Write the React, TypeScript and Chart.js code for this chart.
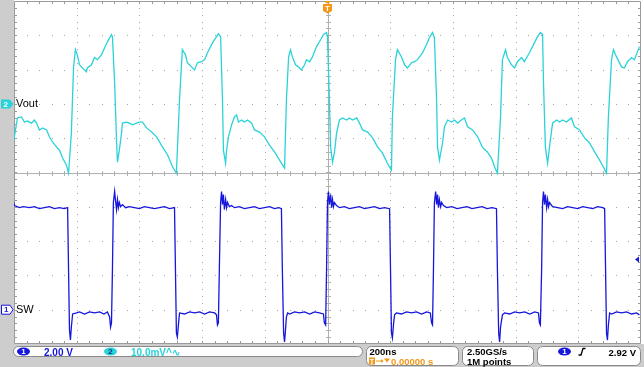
import React, { useEffect, useRef } from "react";
import { Chart, registerables } from "chart.js";

Chart.register(...registerables);

// ---- Channel 2 (Vout, AC, 10 mV/div) : time in ns, value in mV ----
const voutTimeNs = [
  -1002, -989, -976, -967, -957, -944, -935, -928, -919, -909, -896, -887, -877, -864, -855, -845, -833, -826,
  -817, -810, -804, -798, -791, -782, -769, -766, -753, -743, -734, -721, -711, -702, -689, -686,
  -679, -673, -670, -664, -657, -654, -641, -632, -622, -609, -600, -590, -577, -561, -545, -526, -510, -494, -482,
  -472, -463, -453, -447, -434, -424, -415, -402, -392, -383, -367, -354, -348, -341,
  -335, -332, -325, -322, -316, -306, -297, -290, -284, -274, -265, -255, -242, -233, -217, -201, -185, -169, -153, -137,
  -131, -124, -118, -112, -102, -93, -83, -73, -67, -57, -48, -35, -22, -13, -3, 0,
  6, 10, 16, 22, 29, 38, 48, 61, 70, 80, 93, 102, 112, 128, 144, 160, 175, 191, 204,
  207, 217, 223, 236, 246, 255, 268, 278, 287, 303, 316, 325, 335, 341,
  348, 351, 357, 367, 373, 383, 396, 405, 415, 427, 437, 447, 463, 479, 494, 510, 523, 533, 542,
  552, 558, 568, 574, 587, 597, 606, 619, 628, 644, 660, 670, 679, 686,
  689, 695, 702, 711, 718, 731, 740, 750, 762, 778, 788, 804, 820, 836, 852, 868, 880, 890,
  896, 906, 912, 922, 938, 947, 957, 970, 979, 995,
];
const voutMilliVolts = [
  -11.4, -4.1, -3.8, -5.3, -5.0, -5.6, -4.7, -5.6, -7.6, -7.0, -7.6, -9.6, -11.1, -12.6, -13.5, -15.8, -17.8, -20.2,
  -8.5, 10.8, 15.8, 14.3, 11.4, 10.5, 9.4, 10.5, 11.4, 13.5, 12.9, 14.3, 16.4, 18.1, 20.2, 19.6,
  6.1, -10.5, -17.0, -13.5, -8.5, -5.6, -5.3, -5.6, -6.1, -5.6, -5.3, -5.3, -7.0, -8.2, -9.6, -12.6, -14.9, -18.4, -20.2,
  1.2, 15.8, 14.3, 12.0, 10.8, 9.9, 12.0, 12.3, 12.9, 14.9, 17.8, 19.6, 20.5, 19.6,
  1.2, -13.5, -17.3, -13.5, -9.6, -6.1, -3.8, -3.2, -5.3, -4.7, -5.3, -4.7, -5.6, -7.6, -8.2, -9.6, -12.0, -14.0, -16.4, -18.7,
  1.2, 13.7, 15.8, 13.7, 11.4, 10.8, 9.9, 11.4, 12.9, 12.3, 13.7, 16.7, 18.7, 20.2, 20.8, 19.6,
  1.2, -12.6, -17.0, -14.3, -8.5, -4.7, -4.1, -4.7, -4.1, -4.7, -4.1, -5.6, -7.6, -8.2, -9.9, -12.6, -14.3, -17.3, -19.3,
  -3.8, 12.9, 15.8, 13.7, 11.4, 10.5, 12.0, 12.3, 12.9, 14.9, 17.3, 19.3, 20.8, 19.3,
  1.2, -12.6, -16.4, -11.4, -6.7, -4.7, -5.3, -4.7, -5.6, -4.7, -4.1, -6.7, -7.6, -9.6, -12.6, -14.0, -15.8, -18.4, -20.2,
  -3.8, 12.9, 15.8, 13.5, 11.4, 10.5, 12.3, 13.5, 12.3, 14.9, 17.8, 19.6, 20.8, 20.2,
  6.1, -12.6, -17.3, -10.5, -5.6, -4.7, -5.3, -4.7, -5.3, -4.1, -6.7, -7.6, -9.9, -11.4, -14.0, -16.4, -18.4, -20.2,
  -3.8, 12.9, 15.8, 13.7, 10.8, 10.5, 12.3, 13.5, 12.9, 16.7,
];

// ---- Channel 1 (SW, 2 V/div) : time in ns, value in V ----
const swTimeNs = [
  -1002, -998, -983, -970, -951, -935, -919, -903, -887, -871, -855, -840, -829,
  -826, -823, -820, -817, -813, -800, -791, -775, -759, -743, -727, -713, -702,
  -695, -692, -689, -686, -683, -679, -676, -673, -670, -667, -664, -660, -654, -644, -632, -616, -600, -584, -568, -552, -536, -520, -504, -488,
  -485, -482, -479, -475, -472, -456, -440, -424, -408, -392, -376, -360, -354,
  -351, -348, -345, -341, -338, -335, -332, -329, -325, -322, -319, -313, -306, -297, -281, -265, -249, -233, -217, -201, -185, -169, -155, -147,
  -144, -140, -137, -134, -131, -127, -121, -105, -89, -73, -57, -41, -26, -13,
  -10, -6, -3, 0, 3, 6, 10, 13, 16, 19, 22, 29, 38, 54, 70, 86, 102, 118, 134, 150, 166, 182, 198,
  201, 204, 207, 211, 214, 220, 236, 252, 268, 284, 300, 316, 328,
  332, 335, 338, 341, 345, 348, 351, 354, 357, 361, 364, 370, 380, 397, 413, 429, 445, 461, 477, 493, 509, 525, 539,
  542, 546, 549, 552, 558, 565, 581, 597, 613, 629, 645, 661, 673,
  676, 679, 683, 686, 689, 692, 695, 699, 702, 705, 708, 718, 734, 750, 766, 782, 798, 814, 830, 846, 862, 878, 884,
  887, 890, 893, 896, 900, 906, 922, 938, 954, 970, 986, 995,
];
const swVolts = [
  6.32, 6.07, 5.95, 6.01, 5.95, 6.01, 5.89, 5.95, 6.01, 5.89, 5.95, 5.89, 5.95,
  2.33, -1.18, -1.77, -1.01, -0.25, -0.19, -0.13, -0.25, -0.13, -0.19, -0.13, -0.25, -0.13,
  -0.42, -1.01, -0.77, 2.33, 6.25, 6.89, 6.32, 5.84, 6.42, 5.95, 6.25, 6.01, 6.13, 5.95, 6.01, 5.95, 5.89, 6.01, 5.95, 5.89, 5.95, 6.01, 5.89, 5.95,
  2.33, -1.36, -1.59, -0.77, -0.19, -0.25, -0.13, -0.19, -0.13, -0.25, -0.13, -0.19, -0.30,
  -0.89, -0.77, 2.33, 6.25, 6.89, 6.13, 6.71, 5.84, 6.42, 5.95, 6.25, 6.01, 6.07, 5.95, 6.01, 5.89, 5.95, 6.01, 5.89, 5.95, 6.01, 5.89, 5.95, 5.89,
  2.33, -1.36, -1.88, -1.18, -0.42, -0.19, -0.25, -0.13, -0.19, -0.13, -0.25, -0.13, -0.19, -0.25,
  -0.77, -0.89, 2.33, 6.25, 6.89, 6.13, 6.71, 5.95, 6.42, 6.01, 6.25, 6.07, 5.95, 6.01, 5.89, 5.95, 6.01, 5.89, 5.95, 6.01, 5.89, 5.95, 5.89,
  2.33, -1.36, -1.65, -0.77, -0.30, -0.19, -0.25, -0.13, -0.19, -0.13, -0.25, -0.13, -0.19,
  -0.77, -0.89, 2.33, 6.25, 6.89, 6.13, 6.71, 5.95, 6.42, 6.01, 6.25, 6.07, 5.95, 6.01, 5.89, 5.95, 6.01, 5.89, 5.95, 6.01, 5.89, 5.95, 5.89,
  2.33, -1.36, -1.88, -1.01, -0.30, -0.19, -0.25, -0.13, -0.19, -0.13, -0.25, -0.13, -0.19,
  -0.77, -0.89, 2.33, 6.25, 6.89, 6.13, 6.71, 5.95, 6.42, 6.01, 6.25, 6.01, 5.95, 5.89, 6.01, 5.95, 5.89, 6.01, 5.95, 5.89, 6.01, 5.95, 5.89,
  2.33, -1.36, -1.77, -0.89, -0.19, -0.25, -0.13, -0.19, -0.13, -0.25, -0.19, -0.30,
];

// ---- readouts / labels ----
const channelLabels = ["SW", "Vout"];
const channelNumbers = ["1", "2"];
const ch1ScaleText = "2.00 V";
const ch2ScaleText = "10.0mV^∿";
const timebaseText = "200ns";
const triggerDelayText = "0.00000 s";
const sampleRateText = "2.50GS/s";
const recordLengthText = "1M points";
const triggerLevelText = "2.92 V";
const triggerLevelVolts = 2.92;
const timeRangeNs = [-1000, 1000];
const swRangeVolts = [-2, 18]; // 2 V/div, ground 4 div below centre
const voutRangeMilliVolts = [-70, 30]; // 10 mV/div, ground 2 div above centre

const SW_COLOR = "#1616dc";
const VOUT_COLOR = "#2ad2da";
const PANEL = "#cdcdcd";
const ORANGE = "#f29718";

function rr(ctx: CanvasRenderingContext2D, x: number, y: number, w: number, h: number, r: number) {
  ctx.beginPath();
  ctx.moveTo(x + r, y);
  ctx.arcTo(x + w, y, x + w, y + h, r);
  ctx.arcTo(x + w, y + h, x, y + h, r);
  ctx.arcTo(x, y + h, x, y, r);
  ctx.arcTo(x, y, x + w, y, r);
  ctx.closePath();
}

function oval(ctx: CanvasRenderingContext2D, cx: number, cy: number, rx: number, ry: number, fill: string, label: string, textColor: string) {
  ctx.beginPath();
  ctx.ellipse(cx, cy, rx, ry, 0, 0, Math.PI * 2);
  ctx.fillStyle = fill;
  ctx.fill();
  ctx.fillStyle = textColor;
  ctx.font = "bold 8px 'Liberation Sans', Arial, sans-serif";
  ctx.textAlign = "center";
  ctx.textBaseline = "middle";
  ctx.fillText(label, cx, cy + 0.5);
  ctx.textAlign = "left";
  ctx.textBaseline = "alphabetic";
}

const scopePlugin = {
  id: "scopeFrame",
  beforeDraw(chart: any) {
    const { ctx, chartArea: a, width, height } = chart;
    const L = a.left, R = a.right, T = a.top, B = a.bottom;
    const dx = (R - L) / 10, dy = (B - T) / 10;
    ctx.save();
    ctx.fillStyle = "#ffffff";
    ctx.fillRect(0, 0, width, height);
    ctx.fillStyle = PANEL;
    ctx.fillRect(0, 0, L, B);
    ctx.fillRect(0, B, width, height - B);

    // dotted grid
    ctx.fillStyle = "#a4a4a4";
    for (let i = 1; i < 10; i++) {
      if (i === 5) continue;
      const x = Math.round(L + i * dx);
      for (let k = 1; k < 50; k++) ctx.fillRect(x, Math.round(T + (k * dy) / 5), 1, 1);
      const y = Math.round(T + i * dy);
      for (let k = 1; k < 50; k++) ctx.fillRect(Math.round(L + (k * dx) / 5), y, 1, 1);
    }
    // centre lines with ticks
    const cx = Math.round(L + 5 * dx) + 0.5;
    const cy = Math.round(T + 5 * dy) + 0.5;
    ctx.strokeStyle = "#b0b0b0";
    ctx.lineWidth = 1;
    ctx.beginPath();
    ctx.moveTo(L, cy); ctx.lineTo(R, cy);
    ctx.moveTo(cx, T); ctx.lineTo(cx, B);
    for (let k = 1; k < 50; k++) {
      const x = Math.round(L + (k * dx) / 5) + 0.5;
      ctx.moveTo(x, cy - 2.5); ctx.lineTo(x, cy + 2.5);
      const y = Math.round(T + (k * dy) / 5) + 0.5;
      ctx.moveTo(cx - 2.5, y); ctx.lineTo(cx + 2.5, y);
    }
    ctx.stroke();
    // border with inward ticks
    ctx.strokeStyle = "#9a9a9a";
    ctx.beginPath();
    ctx.rect(L + 0.5, T + 0.5, R - L - 1, B - T - 1);
    for (let k = 1; k < 50; k++) {
      const x = Math.round(L + (k * dx) / 5) + 0.5;
      ctx.moveTo(x, T); ctx.lineTo(x, T + 3);
      ctx.moveTo(x, B); ctx.lineTo(x, B - 3);
      const y = Math.round(T + (k * dy) / 5) + 0.5;
      ctx.moveTo(L, y); ctx.lineTo(L + 3, y);
      ctx.moveTo(R, y); ctx.lineTo(R - 3, y);
    }
    ctx.stroke();
    ctx.restore();
  },
  afterDraw(chart: any) {
    const { ctx, chartArea: a, scales } = chart;
    ctx.save();
    const ySw = scales.ySw.getPixelForValue(0);
    const yVout = scales.yVout.getPixelForValue(0);
    const yTrig = scales.ySw.getPixelForValue(triggerLevelVolts);
    const xTrig = scales.x.getPixelForValue(0);

    // ch2 marker
    ctx.beginPath();
    ctx.moveTo(1, yVout - 4.5); ctx.lineTo(10, yVout - 4.5); ctx.lineTo(13.5, yVout);
    ctx.lineTo(10, yVout + 4.5); ctx.lineTo(1, yVout + 4.5); ctx.closePath();
    ctx.fillStyle = VOUT_COLOR; ctx.fill();
    ctx.fillStyle = "#ffffff";
    ctx.font = "bold 8px 'Liberation Sans', Arial, sans-serif";
    ctx.textBaseline = "middle";
    ctx.fillText(channelNumbers[1], 3.5, yVout + 0.5);
    // ch1 marker
    ctx.beginPath();
    ctx.moveTo(1.5, ySw - 4.5); ctx.lineTo(10, ySw - 4.5); ctx.lineTo(13, ySw);
    ctx.lineTo(10, ySw + 4.5); ctx.lineTo(1.5, ySw + 4.5); ctx.closePath();
    ctx.fillStyle = "#ffffff"; ctx.fill();
    ctx.strokeStyle = SW_COLOR; ctx.lineWidth = 1; ctx.stroke();
    ctx.fillStyle = SW_COLOR;
    ctx.fillText(channelNumbers[0], 4, ySw + 0.5);

    // channel labels
    ctx.fillStyle = "#000000";
    ctx.font = "11px 'Liberation Sans', Arial, sans-serif";
    ctx.fillText(channelLabels[1], a.left + 2, yVout);
    ctx.fillText(channelLabels[0], a.left + 2, ySw);

    // trigger position marker
    ctx.fillStyle = ORANGE;
    ctx.beginPath(); ctx.arc(xTrig, a.top, 2.5, 0, Math.PI); ctx.fill();
    ctx.beginPath();
    ctx.moveTo(xTrig - 4.5, a.top + 3); ctx.lineTo(xTrig + 4.5, a.top + 3);
    ctx.lineTo(xTrig + 4.5, a.top + 10); ctx.lineTo(xTrig, a.top + 12.5);
    ctx.lineTo(xTrig - 4.5, a.top + 10); ctx.closePath(); ctx.fill();
    ctx.fillStyle = "#ffffff";
    ctx.font = "bold 8px 'Liberation Sans', Arial, sans-serif";
    ctx.textAlign = "center";
    ctx.fillText("T", xTrig, a.top + 7.5);
    ctx.textAlign = "left";

    // trigger level arrow
    ctx.fillStyle = SW_COLOR;
    ctx.beginPath();
    ctx.moveTo(a.right - 6, yTrig); ctx.lineTo(a.right - 2, yTrig - 3); ctx.lineTo(a.right - 2, yTrig + 3);
    ctx.closePath(); ctx.fill();

    // status bar
    ctx.textBaseline = "alphabetic";
    ctx.lineWidth = 1;
    const boxes = [
      [13.5, 346.5, 349, 10],
      [366.5, 346.5, 92, 19],
      [462.5, 346.5, 71, 19],
      [537.5, 346.5, 103, 19],
    ];
    for (const b of boxes) {
      rr(ctx, b[0], b[1], b[2], b[3], 5);
      ctx.fillStyle = "#ffffff"; ctx.fill();
      ctx.strokeStyle = "#8a8a8a"; ctx.stroke();
    }
    oval(ctx, 23.5, 351.5, 6.5, 4, SW_COLOR, channelNumbers[0], "#ffffff");
    oval(ctx, 110.5, 351.5, 6.5, 4, VOUT_COLOR, channelNumbers[1], "#12327a");
    ctx.font = "bold 10px 'Liberation Sans', Arial, sans-serif";
    ctx.fillStyle = SW_COLOR;
    ctx.fillText(ch1ScaleText, 44, 355.5);
    ctx.fillStyle = VOUT_COLOR;
    ctx.fillText(ch2ScaleText, 131, 355.5);

    ctx.font = "bold 9.5px 'Liberation Sans', Arial, sans-serif";
    ctx.fillStyle = "#000000";
    ctx.fillText(timebaseText, 369.5, 355);
    ctx.fillText(sampleRateText, 467, 355);
    ctx.fillText(recordLengthText, 467, 364.5);
    ctx.textAlign = "right";
    ctx.fillText(triggerLevelText, 636, 355.5);
    ctx.textAlign = "left";
    // trigger delay line
    ctx.fillStyle = ORANGE;
    ctx.fillRect(369, 357.5, 6, 7);
    ctx.fillStyle = "#ffffff";
    ctx.font = "bold 7px 'Liberation Sans', Arial, sans-serif";
    ctx.textAlign = "center";
    ctx.fillText("T", 372, 363.5);
    ctx.textAlign = "left";
    ctx.strokeStyle = ORANGE;
    ctx.beginPath(); ctx.moveTo(376, 361); ctx.lineTo(382, 361); ctx.stroke();
    ctx.fillStyle = ORANGE;
    ctx.beginPath(); ctx.moveTo(381, 359); ctx.lineTo(383.5, 361); ctx.lineTo(381, 363); ctx.closePath(); ctx.fill();
    ctx.beginPath(); ctx.moveTo(384, 358.5); ctx.lineTo(390, 358.5); ctx.lineTo(387, 362.5); ctx.closePath(); ctx.fill();
    ctx.font = "bold 9.5px 'Liberation Sans', Arial, sans-serif";
    ctx.fillText(triggerDelayText, 391, 364.5);
    // trigger readout
    oval(ctx, 564.5, 351.5, 6.5, 4, SW_COLOR, channelNumbers[0], "#ffffff");
    ctx.strokeStyle = "#000000";
    ctx.lineWidth = 1.3;
    ctx.beginPath();
    ctx.moveTo(578.5, 355); ctx.lineTo(581, 355); ctx.lineTo(583, 348.5); ctx.lineTo(585.5, 348.5);
    ctx.stroke();
    ctx.restore();
  },
};

export default function App() {
  const ref = useRef<HTMLCanvasElement | null>(null);
  useEffect(() => {
    if (!ref.current) return;
    const swData = swTimeNs.map((t, i) => ({ x: t, y: swVolts[i] }));
    const voutData = voutTimeNs.map((t, i) => ({ x: t, y: voutMilliVolts[i] }));
    const chart = new Chart(ref.current, {
      type: "line",
      data: {
        datasets: [
          {
            label: channelLabels[0],
            data: swData,
            yAxisID: "ySw",
            borderColor: SW_COLOR,
            borderWidth: 1.3,
            pointRadius: 0,
            tension: 0,
          },
          {
            label: channelLabels[1],
            data: voutData,
            yAxisID: "yVout",
            borderColor: VOUT_COLOR,
            borderWidth: 1.3,
            pointRadius: 0,
            tension: 0,
          },
        ],
      },
      options: {
        responsive: false,
        animation: false,
        devicePixelRatio: 1,
        layout: { padding: { left: 14, right: 3, top: 1, bottom: 23 } },
        plugins: { legend: { display: false }, tooltip: { enabled: false } },
        scales: {
          x: { type: "linear", min: timeRangeNs[0], max: timeRangeNs[1], display: false },
          ySw: { type: "linear", min: swRangeVolts[0], max: swRangeVolts[1], display: false },
          yVout: { type: "linear", min: voutRangeMilliVolts[0], max: voutRangeMilliVolts[1], display: false },
        },
      },
      plugins: [scopePlugin],
    });
    return () => chart.destroy();
  }, []);
  return (
    <div style={{ position: "absolute", left: 0, top: 0, width: 644, height: 367 }}>
      <canvas ref={ref} width={644} height={367} />
    </div>
  );
}
